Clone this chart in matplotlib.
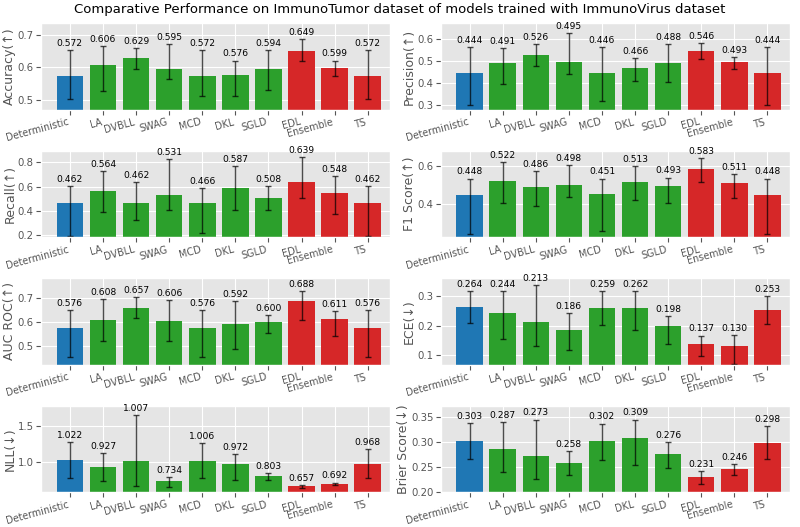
import matplotlib.pyplot as plt
import numpy as np

plt.style.use('ggplot')

# Methods and bar colours (baseline / sampling-based / ensemble-like)
METHODS = ['Deterministic', 'LA', 'DVBLL', 'SWAG', 'MCD', 'DKL', 'SGLD', 'EDL', 'Ensemble', 'TS']
COLORS = ['#1f77b4'] + ['#2ca02c'] * 6 + ['#d62728'] * 3

# Mean values per metric
accuracy = [0.572, 0.606, 0.629, 0.595, 0.572, 0.576, 0.594, 0.649, 0.599, 0.572]
precision = [0.444, 0.491, 0.526, 0.495, 0.446, 0.466, 0.488, 0.546, 0.493, 0.444]
recall = [0.462, 0.564, 0.462, 0.531, 0.466, 0.587, 0.508, 0.639, 0.548, 0.462]
f1 = [0.448, 0.522, 0.486, 0.498, 0.451, 0.513, 0.493, 0.583, 0.511, 0.448]
auc = [0.576, 0.608, 0.657, 0.606, 0.576, 0.592, 0.600, 0.688, 0.611, 0.576]
ece = [0.264, 0.244, 0.213, 0.186, 0.259, 0.262, 0.198, 0.137, 0.130, 0.253]
nll = [1.022, 0.927, 1.007, 0.734, 1.006, 0.972, 0.803, 0.657, 0.692, 0.968]
brier = [0.303, 0.287, 0.273, 0.258, 0.302, 0.309, 0.276, 0.231, 0.246, 0.298]

# Error bar ends (lower, upper)
accuracy_lo = [0.504, 0.526, 0.595, 0.564, 0.512, 0.512, 0.531, 0.621, 0.574, 0.504]
accuracy_hi = [0.652, 0.666, 0.659, 0.672, 0.652, 0.621, 0.652, 0.687, 0.621, 0.652]
precision_lo = [0.300, 0.396, 0.475, 0.442, 0.318, 0.408, 0.405, 0.510, 0.465, 0.300]
precision_hi = [0.563, 0.559, 0.576, 0.626, 0.563, 0.513, 0.577, 0.580, 0.517, 0.563]
recall_lo = [0.195, 0.393, 0.327, 0.409, 0.214, 0.409, 0.409, 0.506, 0.375, 0.195]
recall_hi = [0.607, 0.726, 0.640, 0.828, 0.588, 0.770, 0.607, 0.841, 0.690, 0.607]
f1_lo = [0.241, 0.405, 0.388, 0.438, 0.258, 0.420, 0.405, 0.515, 0.432, 0.241]
f1_hi = [0.533, 0.618, 0.573, 0.604, 0.533, 0.600, 0.538, 0.639, 0.559, 0.533]
auc_lo = [0.454, 0.519, 0.617, 0.519, 0.454, 0.489, 0.554, 0.610, 0.542, 0.454]
auc_hi = [0.651, 0.697, 0.703, 0.692, 0.651, 0.688, 0.628, 0.728, 0.646, 0.651]
ece_lo = [0.210, 0.155, 0.131, 0.117, 0.204, 0.185, 0.138, 0.097, 0.071, 0.206]
ece_hi = [0.317, 0.317, 0.337, 0.244, 0.317, 0.317, 0.232, 0.167, 0.168, 0.302]
nll_lo = [0.773, 0.727, 0.667, 0.648, 0.773, 0.750, 0.740, 0.635, 0.675, 0.773]
nll_hi = [1.282, 1.120, 1.653, 0.787, 1.269, 1.107, 0.843, 0.681, 0.710, 1.176]
brier_lo = [0.267, 0.241, 0.227, 0.234, 0.265, 0.255, 0.248, 0.216, 0.235, 0.267]
brier_hi = [0.338, 0.340, 0.345, 0.282, 0.337, 0.345, 0.301, 0.242, 0.257, 0.332]

# (label, values, lower, upper, ylim, yticks)
PANELS = [
    ('Accuracy(↑)', accuracy, accuracy_lo, accuracy_hi, (0.469, 0.736), [0.5, 0.6, 0.7]),
    ('Precision(↑)', precision, precision_lo, precision_hi, (0.277, 0.671), [0.3, 0.4, 0.5, 0.6]),
    ('Recall(↑)', recall, recall_lo, recall_hi, (0.181, 0.896), [0.2, 0.4, 0.6, 0.8]),
    ('F1 Score(↑)', f1, f1_lo, f1_hi, (0.223, 0.680), [0.4, 0.6]),
    ('AUC ROC(↑)', auc, auc_lo, auc_hi, (0.422, 0.783), [0.5, 0.6, 0.7]),
    ('ECE(↓)', ece, ece_lo, ece_hi, (0.068, 0.362), [0.1, 0.2, 0.3]),
    ('NLL(↓)', nll, nll_lo, nll_hi, (0.574, 1.79), [1.0, 1.5]),
    ('Brier Score(↓)', brier, brier_lo, brier_hi, (0.200, 0.373), [0.20, 0.25, 0.30, 0.35]),
]

fig, axes = plt.subplots(4, 2, figsize=(8, 5.27), dpi=100)
fig.subplots_adjust(left=0.051, right=0.987, top=0.956, bottom=0.066,
                    wspace=0.145, hspace=0.47)

x = np.arange(len(METHODS))
for ax, (label, vals, lo, hi, ylim, yticks) in zip(axes.flatten(), PANELS):
    vals = np.array(vals)
    lo = np.array(lo)
    hi = np.array(hi)
    yerr = [vals - lo, hi - vals]
    ax.bar(x, vals, width=0.8, color=COLORS, yerr=yerr, capsize=2.5,
           error_kw=dict(ecolor='black', elinewidth=1.0, alpha=0.7, capthick=1.0))
    for i, v in enumerate(vals):
        ax.annotate('%.3f' % v, (x[i], hi[i]), xytext=(0, 1.5),
                    textcoords='offset points', ha='center', va='bottom',
                    fontsize=6.6, color='black', annotation_clip=False)
    ax.set_xlim(-0.88, 9.67)
    ax.set_ylim(*ylim)
    ax.set_yticks(yticks)
    if label.startswith('Brier'):
        ax.set_yticklabels(['%.2f' % t for t in yticks])
    ax.set_xticks(x)
    ax.set_xticklabels(METHODS, rotation=15, ha='right', fontsize=6.9)
    ax.tick_params(axis='y', labelsize=7.3, pad=1.5)
    ax.tick_params(axis='x', pad=1.5)
    ax.set_ylabel(label, fontsize=9, labelpad=1)

fig.suptitle('Comparative Performance on ImmunoTumor dataset of models trained with ImmunoVirus dataset',
             fontsize=9.5, y=0.995)

plt.savefig('out.png', dpi=100)
